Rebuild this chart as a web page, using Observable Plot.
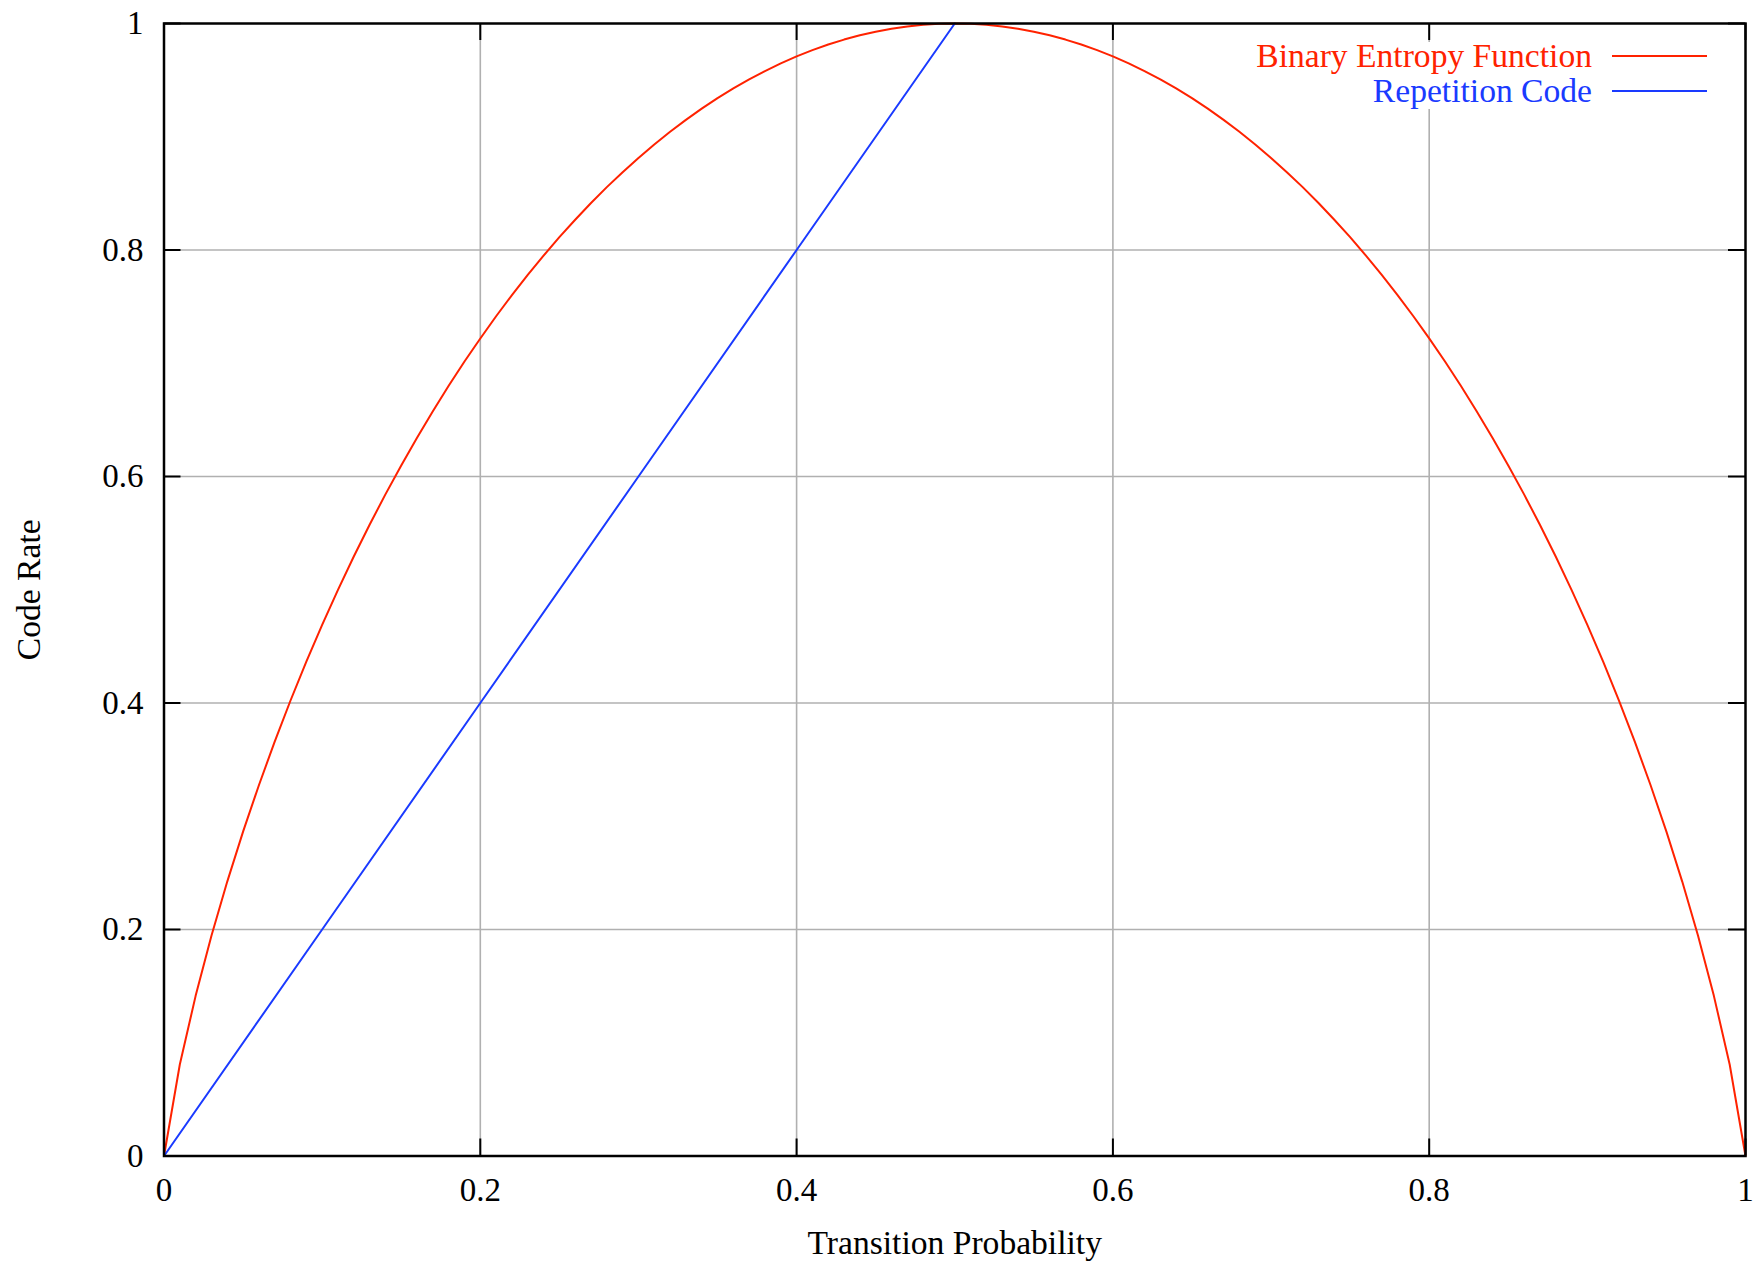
<!DOCTYPE html>
<html>
<head>
<meta charset="utf-8">
<script src="https://cdn.jsdelivr.net/npm/d3@7"></script>
<script src="https://cdn.jsdelivr.net/npm/@observablehq/plot@0.6"></script>
<style>
  html, body { margin: 0; padding: 0; background: #fff; }
  #wrap { position: relative; width: 1764px; height: 1263px; }
  #legend { position: absolute; left: 0; top: 0; pointer-events: none; }
</style>
</head>
<body>
<div id="wrap"></div>
<script>
// ---- data ----
const transitionProb = [
  0.00, 0.01, 0.02, 0.03, 0.04, 0.05, 0.06, 0.07, 0.08, 0.09,
  0.10, 0.11, 0.12, 0.13, 0.14, 0.15, 0.16, 0.17, 0.18, 0.19,
  0.20, 0.21, 0.22, 0.23, 0.24, 0.25, 0.26, 0.27, 0.28, 0.29,
  0.30, 0.31, 0.32, 0.33, 0.34, 0.35, 0.36, 0.37, 0.38, 0.39,
  0.40, 0.41, 0.42, 0.43, 0.44, 0.45, 0.46, 0.47, 0.48, 0.49,
  0.50, 0.51, 0.52, 0.53, 0.54, 0.55, 0.56, 0.57, 0.58, 0.59,
  0.60, 0.61, 0.62, 0.63, 0.64, 0.65, 0.66, 0.67, 0.68, 0.69,
  0.70, 0.71, 0.72, 0.73, 0.74, 0.75, 0.76, 0.77, 0.78, 0.79,
  0.80, 0.81, 0.82, 0.83, 0.84, 0.85, 0.86, 0.87, 0.88, 0.89,
  0.90, 0.91, 0.92, 0.93, 0.94, 0.95, 0.96, 0.97, 0.98, 0.99,
  1.00
];
const entropyRate = [
  0, 0.0808, 0.1414, 0.1944, 0.2423, 0.2864, 0.3274, 0.3659, 0.4022, 0.4365,
  0.4690, 0.4999, 0.5294, 0.5574, 0.5842, 0.6098, 0.6343, 0.6577, 0.6801, 0.7015,
  0.7219, 0.7415, 0.7602, 0.7780, 0.7950, 0.8113, 0.8267, 0.8415, 0.8555, 0.8687,
  0.8813, 0.8932, 0.9044, 0.9149, 0.9248, 0.9341, 0.9427, 0.9507, 0.9580, 0.9648,
  0.9710, 0.9765, 0.9815, 0.9858, 0.9896, 0.9928, 0.9954, 0.9974, 0.9988, 0.9997,
  1.0000, 0.9997, 0.9988, 0.9974, 0.9954, 0.9928, 0.9896, 0.9858, 0.9815, 0.9765,
  0.9710, 0.9648, 0.9580, 0.9507, 0.9427, 0.9341, 0.9248, 0.9149, 0.9044, 0.8932,
  0.8813, 0.8687, 0.8555, 0.8415, 0.8267, 0.8113, 0.7950, 0.7780, 0.7602, 0.7415,
  0.7219, 0.7015, 0.6801, 0.6577, 0.6343, 0.6098, 0.5842, 0.5574, 0.5294, 0.4999,
  0.4690, 0.4365, 0.4022, 0.3659, 0.3274, 0.2864, 0.2423, 0.1944, 0.1414, 0.0808,
  0
];
const repetitionProb = [0, 0.1, 0.2, 0.3, 0.4, 0.5];
const repetitionRate = [0, 0.2, 0.4, 0.6, 0.8, 1.0];

const seriesNames  = ["Binary Entropy Function", "Repetition Code"];
const seriesColors = ["#ff2200", "#1a3aff"];

const xTicks = [0, 0.2, 0.4, 0.6, 0.8, 1];
const yTicks = [0, 0.2, 0.4, 0.6, 0.8, 1];
const xGrid  = [0.2, 0.4, 0.6, 0.8];
const yGrid  = [0.2, 0.4, 0.6, 0.8];
const xLabel = "Transition Probability";
const yLabel = "Code Rate";

// ---- build tables ----
const entropy = transitionProb.map((p, i) => ({p, r: entropyRate[i]}));
const repetition = repetitionProb.map((p, i) => ({p, r: repetitionRate[i]}));

const W = 1764, H = 1263;
const mL = 163.5, mR = 19, mT = 23, mB = 107.5;
const innerH = H - mT - mB;
const innerW = W - mL - mR;
const tickLen = 17;
const FONT = "'Liberation Serif', 'Times New Roman', serif";
const FS = 33;
const LFS = 33.6;

const chart = Plot.plot({
  width: W,
  height: H,
  marginLeft: mL,
  marginRight: mR,
  marginTop: mT,
  marginBottom: mB,
  style: {fontFamily: FONT, fontSize: FS + "px", background: "white", color: "black"},
  x: {domain: [0, 1]},
  y: {domain: [0, 1]},
  marks: [
    Plot.gridX(xGrid, {stroke: "#b0b0b0", strokeOpacity: 1, strokeWidth: 1.6}),
    Plot.gridY(yGrid, {stroke: "#b0b0b0", strokeOpacity: 1, strokeWidth: 1.6}),
    // inward ticks on all four sides
    Plot.tickX(xTicks, {x: d => d, insetTop: innerH - tickLen, stroke: "black", strokeWidth: 2}),
    Plot.tickX(xTicks, {x: d => d, insetBottom: innerH - tickLen, stroke: "black", strokeWidth: 2}),
    Plot.tickY(yTicks, {y: d => d, insetRight: innerW - tickLen, stroke: "black", strokeWidth: 2}),
    Plot.tickY(yTicks, {y: d => d, insetLeft: innerW - tickLen, stroke: "black", strokeWidth: 2}),
    Plot.line(entropy, {x: "p", y: "r", stroke: seriesColors[0], strokeWidth: 2}),
    Plot.line(repetition, {x: "p", y: "r", stroke: seriesColors[1], strokeWidth: 2}),
    Plot.frame({stroke: "black", strokeWidth: 2.5}),
    Plot.axisX({ticks: xTicks, tickSize: 0, tickPadding: 22, fontSize: FS, tickFormat: d => String(d), label: null}),
    Plot.axisY({ticks: yTicks, tickSize: 0, tickPadding: 20.5, fontSize: FS, tickFormat: d => String(d), label: null}),
    Plot.text([xLabel], {text: d => d, frameAnchor: "bottom", textAnchor: "middle", dy: 87.5, lineAnchor: "middle", fontSize: LFS, fill: "black"}),
    Plot.text([yLabel], {text: d => d, frameAnchor: "left", textAnchor: "middle", dx: -135, rotate: -90, lineAnchor: "middle", fontSize: LFS, fill: "black"})
  ]
});

const wrap = document.getElementById("wrap");
wrap.appendChild(chart);

// ---- legend (opaque key inside the plot area, top-right) ----
const leg = d3.select(wrap).append("svg")
  .attr("id", "legend")
  .attr("width", W).attr("height", H)
  .style("font-family", FONT).style("font-size", LFS + "px");

leg.append("rect")
  .attr("x", 1240).attr("y", 42).attr("width", 480).attr("height", 67)
  .attr("fill", "white");

const rows = seriesNames.map((name, i) => ({name, color: seriesColors[i], i}));
const g = leg.selectAll("g.row").data(rows).join("g").attr("class", "row")
  .attr("transform", d => `translate(0, ${56 + d.i * 35})`);
g.append("text")
  .attr("x", 1592).attr("y", 0).attr("dy", "0.32em")
  .attr("text-anchor", "end")
  .attr("fill", d => d.color)
  .text(d => d.name);
g.append("line")
  .attr("x1", 1612).attr("x2", 1707).attr("y1", 0).attr("y2", 0)
  .attr("stroke", d => d.color).attr("stroke-width", 2);
</script>
</body>
</html>
